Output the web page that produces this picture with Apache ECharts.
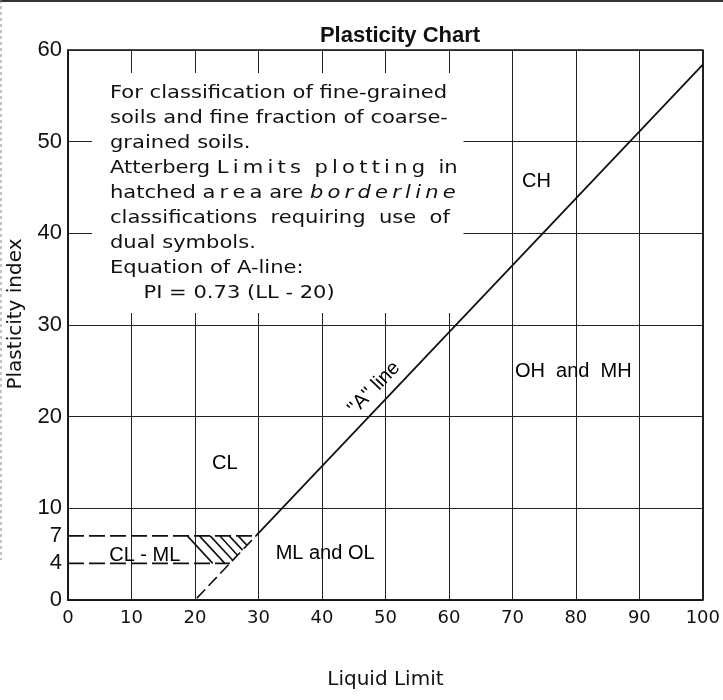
<!DOCTYPE html>
<html>
<head>
<meta charset="utf-8">
<title>Plasticity Chart</title>
<script src="https://cdn.jsdelivr.net/npm/echarts@6.0.0/dist/echarts.min.js"></script>
<style>
  html, body { margin: 0; padding: 0; background: #fff; }
  #chart { width: 723px; height: 700px; }
</style>
</head>
<body>
<div id="chart"></div>
<script>
// Axis tick labels
const yLabelValues = [0, 4, 7, 10, 20, 30, 40, 50, 60];

// "A" line: PI = 0.73 (LL - 20)
const aLineSolid = [[29.6, 7], [100, 58.4]];
const aLineDashed = [[20.3, 0.2], [29.6, 7]];

// CL-ML band limits (dashed)
const clmlTop = [[0, 7], [29.6, 7]];
const clmlBottom = [[0, 4], [25.5, 4]];

// hatch strokes in the borderline area
const hatchSegments = [
    [[18.8, 7], [22.8, 4]],
    [[20.7, 7], [24.7, 4]],
    [[22.4, 7], [25.95, 4.33]],
    [[23.9, 7], [26.7, 4.89]],
    [[25.4, 7], [27.5, 5.44]],
    [[26.8, 7], [28.2, 5.96]]
];

// zone labels
const zoneNames = ['CH', 'OH  and  MH', 'CL', 'ML and OL', 'CL - ML', "''A'' line"];
const zoneLL = [73.8, 79.6, 24.7, 40.5, 12.1, 48.2];
const zonePI = [45.7, 24.9, 14.9, 5.1, 4.9, 23.1];
const zoneRotate = [0, 0, 0, 0, 0, 46];

// blank area behind the note text
const noteArea = [[3.8, 57.5], [62.3, 31.3]];

const noteLines = [
    'For classification of fine-grained',
    'soils and fine fraction of coarse-',
    'grained soils.',
    'Atterberg L\u2009i\u2009m\u2009i\u2009t\u2009s  p\u2009l\u2009o\u2009t\u2009t\u2009i\u2009n\u2009g  in',
    'hatched a\u2009r\u2009e\u2009a are {it|b\u2009o\u2009r\u2009d\u2009e\u2009r\u2009l\u2009i\u2009n\u2009e}',
    'classifications  requiring  use  of',
    'dual symbols.',
    'Equation of A-line:',
    '     PI = 0.73 (LL - 20)'
];

const chart = echarts.init(document.getElementById('chart'));

const dashedLine = (name, data, dash) => ({
    name: name,
    type: 'line',
    data: data,
    symbol: 'none',
    silent: true,
    z: 4,
    lineStyle: { color: '#111', width: 1.6, type: dash }
});

const option = {
    animation: false,
    title: {
        text: 'Plasticity Chart',
        left: 395,
        textAlign: 'center',
        top: 20,
        textStyle: {
            fontFamily: 'Liberation Sans',
            fontSize: 22,
            fontWeight: 'bold',
            color: '#111'
        }
    },
    grid: {
        left: 68,
        right: 18,
        top: 50,
        bottom: 100,
        show: true,
        borderColor: '#111',
        borderWidth: 1.5
    },
    xAxis: {
        type: 'value',
        min: 0,
        max: 100,
        interval: 10,
        name: 'Liquid Limit',
        nameLocation: 'middle',
        nameGap: 70,
        nameTextStyle: { fontFamily: 'DejaVu Sans', fontSize: 20, color: '#111' },
        axisLine: { show: true, lineStyle: { color: '#111', width: 1.5 } },
        axisTick: { show: false },
        axisLabel: { fontFamily: 'DejaVu Sans', fontSize: 18, color: '#111', margin: 9 },
        splitLine: { show: true, lineStyle: { color: '#222', width: 1 } }
    },
    yAxis: {
        type: 'value',
        min: 0,
        max: 60,
        interval: 10,
        axisLine: { show: true, lineStyle: { color: '#111', width: 1.5 } },
        axisTick: { show: false },
        axisLabel: {
            customValues: yLabelValues,
            fontFamily: 'Liberation Sans',
            fontSize: 22,
            color: '#111',
            margin: 6
        },
        splitLine: { show: true, lineStyle: { color: '#222', width: 1 } }
    },
    series: [
        {
            name: 'note box',
            type: 'line',
            data: [],
            silent: true,
            z: 3,
            markArea: {
                silent: true,
                itemStyle: { color: '#fff', opacity: 1 },
                data: [[{ coord: noteArea[0] }, { coord: noteArea[1] }]]
            }
        },
        {
            name: 'A-line',
            type: 'line',
            data: aLineSolid,
            symbol: 'none',
            silent: true,
            z: 4,
            lineStyle: { color: '#111', width: 1.8 }
        },
        dashedLine('A-line dashed', aLineDashed, [12, 5]),
        dashedLine('PI 7', clmlTop, [16, 5]),
        dashedLine('PI 4', clmlBottom, [16, 5]),
        {
            name: 'hatch',
            type: 'lines',
            coordinateSystem: 'cartesian2d',
            silent: true,
            z: 4,
            lineStyle: { color: '#111', width: 1.6, opacity: 1 },
            data: hatchSegments.map(s => ({ coords: s }))
        },
        {
            name: 'zones',
            type: 'scatter',
            symbolSize: 0,
            silent: true,
            z: 5,
            itemStyle: { opacity: 1 },
            label: {
                show: true,
                position: 'inside',
                formatter: p => p.name,
                fontFamily: 'Liberation Sans',
                fontSize: 20,
                color: '#000',
                opacity: 1
            },
            data: zoneNames.map((n, i) => ({
                name: n,
                value: [zoneLL[i], zonePI[i]],
                label: { rotate: zoneRotate[i] }
            }))
        }
    ],
    graphic: [
        {
            type: 'text',
            x: 110,
            y: 81,
            scaleX: 1.17,
            z: 10,
            silent: true,
            style: {
                text: noteLines.join('\n'),
                fontFamily: 'DejaVu Sans',
                fontSize: 18,
                lineHeight: 25,
                fill: '#111',
                rich: {
                    it: {
                        fontFamily: 'DejaVu Sans',
                        fontSize: 18,
                        fontStyle: 'italic',
                        lineHeight: 25,
                        fill: '#111'
                    }
                }
            }
        },
        {
            type: 'text',
            x: 16,
            y: 314,
            rotation: Math.PI / 2,
            z: 10,
            silent: true,
            style: {
                text: 'Plasticity index',
                fontFamily: 'DejaVu Sans',
                fontSize: 20,
                fill: '#111',
                align: 'center',
                verticalAlign: 'middle'
            }
        },
        {
            type: 'line',
            z: 10,
            silent: true,
            shape: { x1: 0, y1: 1, x2: 723, y2: 1 },
            style: { stroke: '#333', lineWidth: 2 }
        },
        {
            type: 'line',
            z: 10,
            silent: true,
            shape: { x1: 1, y1: 0, x2: 1, y2: 560 },
            style: { stroke: '#888', lineWidth: 1, lineDash: [3, 3] }
        }
    ]
};

chart.setOption(option);

window.addEventListener('resize', () => chart.resize());
</script>
</body>
</html>
